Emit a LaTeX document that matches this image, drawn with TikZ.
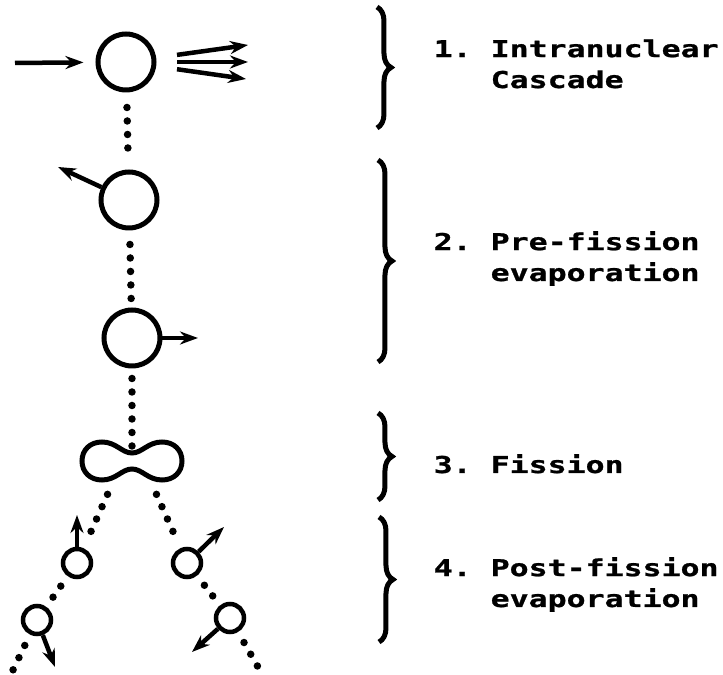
\documentclass[tikz,border=0pt]{standalone}
\usepackage{fontspec}
\newfontfamily\dotfont[FakeStretch=1.36,FakeBold=1]{DejaVu Sans Mono}
\usetikzlibrary{arrows.meta}
\usetikzlibrary{decorations.pathreplacing}

\tikzset{
	nucleus/.style={draw,circle,line width=0.5mm,inner sep=0pt,minimum size=5.6mm},
	fragment/.style={draw,circle,line width=0.45mm,inner sep=0pt,minimum size=2.8mm},
	dotline/.style={line width=0.75mm,line cap=round,dash pattern=on 0mm off 1.35mm},
	emit/.style={line width=0.45mm,-{Stealth[length=1.8mm,width=1.3mm]}},
	stagebrace/.style={decorate,decoration={brace,amplitude=1.4mm},line width=0.5mm},
	stagetext/.style={anchor=base west,align=left,inner sep=0pt,font=\dotfont\bfseries\fontsize{6.6}{8.8}\selectfont}
}

\begin{document}
\begin{tikzpicture}[x=0.1mm,y=-0.1mm]
	\useasboundingbox (0,0) rectangle (723,675);
	% nuclei along the chain
	\node[nucleus] (c1) at (126,62) {};
	\node[nucleus] (c2) at (129,200) {};
	\node[nucleus] (c3) at (132,338) {};
	\coordinate (fis) at (132,461);
	\coordinate (fisN) at (132,452);
	\coordinate (fisL) at (113,482);
	\coordinate (fisR) at (151,482);
	\node[fragment] (a1) at (77,563) {};
	\node[fragment] (a2) at (37,620) {};
	\node[fragment] (b1) at (187,563) {};
	\node[fragment] (b2) at (230,618) {};
	\coordinate (aEnd) at (13,670);
	\coordinate (bEnd) at (258,667);
	% fissioning nucleus
	\draw[line width=0.5mm,shift={(fis)}]
		(0,-8) .. controls (-10,-8) and (-16,-19) .. (-30,-19)
		.. controls (-42,-19) and (-50,-11) .. (-50,0)
		.. controls (-50,11) and (-42,19) .. (-30,19)
		.. controls (-16,19) and (-10,8) .. (0,8)
		.. controls (10,8) and (16,19) .. (30,19)
		.. controls (42,19) and (50,11) .. (50,0)
		.. controls (50,-11) and (42,-19) .. (30,-19)
		.. controls (16,-19) and (10,-8) .. (0,-8) -- cycle;
	% dotted chain
	\draw[dotline,shorten <=1.5mm,shorten >=1.2mm] (c1) -- (c2);
	\draw[dotline,shorten <=1.4mm,shorten >=0.8mm] (c2) -- (c3);
	\draw[dotline,shorten <=1mm,shorten >=0.5mm] (c3) -- (fisN);
	\draw[dotline,shorten <=1.35mm,shorten >=1.4mm] (fisL) -- (a1);
	\draw[dotline,shorten <=1.2mm] (a1) -- (a2);
	\draw[dotline,shorten <=1.2mm] (a2) -- (aEnd);
	\draw[dotline,shorten <=1.35mm,shorten >=1.4mm] (fisR) -- (b1);
	\draw[dotline,shorten <=1.2mm] (b1) -- (b2);
	\draw[dotline,shorten <=1.2mm] (b2) -- (bEnd);
	% emitted particles
	\coordinate (inStart) at (15,63);
	\coordinate (out1) at (248,45);
	\coordinate (out2) at (248,62);
	\coordinate (out3) at (246,79);
	\coordinate (c2tip) at (58,167);
	\coordinate (c3tip) at (198,338);
	\coordinate (a1tip) at (77,515);
	\coordinate (a2tip) at (55,667);
	\coordinate (b1tip) at (224,527);
	\coordinate (b2tip) at (192,652);
	\draw[emit,shorten >=1.2mm] (inStart) -- (c1);
	\draw[emit,shorten <=2.1mm] (c1) -- (out1);
	\draw[emit,shorten <=2.1mm] (c1) -- (out2);
	\draw[emit,shorten <=2.1mm] (c1) -- (out3);
	\draw[emit] (c2) -- (c2tip);
	\draw[emit] (c3) -- (c3tip);
	\draw[emit] (a1) -- (a1tip);
	\draw[emit] (a2) -- (a2tip);
	\draw[emit] (b1) -- (b1tip);
	\draw[emit] (b2) -- (b2tip);
	% stages
	\draw[stagebrace] (377,7) -- (377,128);
	\draw[stagebrace] (378,160) -- (378,362);
	\draw[stagebrace] (378,413) -- (378,500);
	\draw[stagebrace] (379,517) -- (379,642);
	\node[stagetext] (s1) at (433,88) {1.~Intranuclear\\~~~Cascade};
	\node[stagetext] (s2) at (433,281) {2.~Pre-fission\\~~~evaporation};
	\node[stagetext] (s3) at (433,473) {3.~Fission};
	\node[stagetext] (s4) at (433,607) {4.~Post-fission\\~~~evaporation};
\end{tikzpicture}
\end{document}
